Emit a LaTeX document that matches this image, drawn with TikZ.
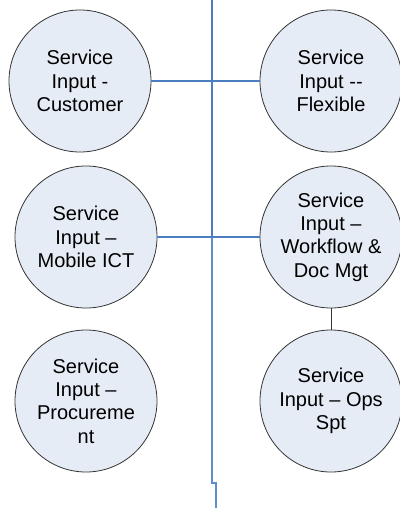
\documentclass[tikz,border=0pt]{standalone}
\usepackage{fontspec}
\setmainfont{Liberation Sans}
\usepackage{xcolor}
\definecolor{bubblefill}{RGB}{230,236,246}
\definecolor{trunkblue}{RGB}{74,126,193}
\definecolor{trunklight}{RGB}{96,142,205}

\tikzset{
	service/.style={circle, draw=black!80, line width=0.8pt, fill=bubblefill,
		minimum size=142pt, inner sep=0pt, align=center,
		font=\fontsize{20}{23.3}\selectfont},
	link/.style={draw=trunkblue, line width=1.6pt}
}

\begin{document}
\begin{tikzpicture}[x=1pt, y=-1pt]
		\useasboundingbox (0,0) rectangle (399,508);
		% trunk down the middle
		\coordinate (t0) at (212,0);
		\coordinate (t1) at (212,237);
		\coordinate (t2) at (212,483);
		\coordinate (t3) at (216,483);
		\coordinate (t4) at (216,508);
		\draw[draw=trunkblue, line width=2.6pt] (t0) -- (t1);
		\draw[draw=trunklight, line width=1.6pt] (t1) -- (t2) -- (t3) -- (t4);
		% left column
		\node[service] (cust) at (80,81) {Service\\Input -\\Customer};
		\node[service] (ict) at (86,237) {Service\\Input --\\Mobile ICT};
		\node[service] (proc) at (86,401) {Service\\Input --\\Procureme\\nt};
		% right column
		\node[service] (flex) at (331,81) {Service\\Input -{}-\\Flexible};
		\node[service] (wf) at (331,237) {Service\\Input --\\Workflow \&\\Doc Mgt};
		\node[service] (ops) at (331,401) {Service\\Input -- Ops\\Spt};
		% links
		\draw[link] (cust) -- (flex);
		\draw[link] (ict) -- (wf);
		\draw[black!80, line width=0.8pt] (wf) -- (ops);
	\end{tikzpicture}
\end{document}
